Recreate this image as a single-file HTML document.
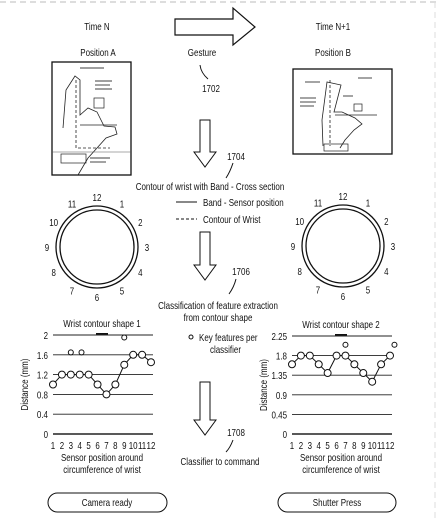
<!DOCTYPE html>
<html><head><meta charset="utf-8"><style>
html,body{margin:0;padding:0;background:#fff}
svg{display:block;font-family:"Liberation Sans",sans-serif;}
text{fill:#111;font-size:10.5px}
</style></head><body>
<svg id="fig" width="437" height="521" viewBox="0 0 437 521">
<line x1="0" y1="2" x2="437" y2="2" stroke="#bbb" stroke-dasharray="6,4"/>
<line x1="435" y1="2" x2="435" y2="521" stroke="#ddd" stroke-dasharray="6,4"/>
<text x="97" y="30" text-anchor="middle">Time N</text>
<text x="333" y="30" text-anchor="middle">Time N+1</text>
<polygon points="175,19 233,19 233,8 255,27 233,45 233,35 175,35" fill="#fff" stroke="#111" stroke-width="1.2"/>
<text x="98" y="56" text-anchor="middle">Position A</text>
<text x="202" y="56" text-anchor="middle">Gesture</text>
<text x="333" y="56" text-anchor="middle">Position B</text>
<path d="M200,65 Q201,73 208,79" fill="none" stroke="#111"/>
<text x="211" y="92" text-anchor="middle">1702</text>
<g>
<rect x="52" y="62" width="79" height="113" fill="#fff" stroke="#111" stroke-width="1.3"/>
<path d="M63,128 L66,90 L75,76 L80,80 L80,115 L88,108 L97,112 L104,126 L115,127 L117,134 L106,138 L97,148 L88,158 L78,175" fill="none" stroke="#222" stroke-width="0.8"/>
<path d="M76,80 L76,148 L110,148" fill="none" stroke="#222" stroke-width="0.8" stroke-dasharray="3,2"/>
<line x1="80" y1="125" x2="117" y2="125" stroke="#222" stroke-width="0.8"/>
<rect x="94" y="98" width="10" height="10" fill="none" stroke="#222" stroke-width="0.7"/>
<rect x="61" y="154" width="25" height="9" fill="none" stroke="#222" stroke-width="0.7"/>
<line x1="52" y1="152" x2="131" y2="152" stroke="#555" stroke-width="0.6"/>
<g stroke="#666" stroke-width="1.2"><line x1="95" y1="81" x2="112" y2="81"/><line x1="95" y1="85" x2="110" y2="85"/><line x1="95" y1="89" x2="112" y2="89"/><line x1="80" y1="68" x2="104" y2="68"/><line x1="90" y1="158" x2="110" y2="158"/><line x1="90" y1="162" x2="106" y2="162"/></g>
</g>
<g>
<rect x="293" y="69" width="99" height="85" fill="#fff" stroke="#111" stroke-width="1.3"/>
<path d="M323,146 L322,120 L327,82 L341,85 L334,112 L342,112 L355,118 L362,124 L354,130 L345,140 L340,148" fill="none" stroke="#222" stroke-width="0.8"/>
<path d="M330,80 L330,146" fill="none" stroke="#222" stroke-width="0.8" stroke-dasharray="3,2"/>
<line x1="335" y1="115" x2="377" y2="115" stroke="#222" stroke-width="0.8"/>
<rect x="354" y="104" width="8" height="7" fill="none" stroke="#222" stroke-width="0.7"/>
<rect x="324" y="144" width="24" height="7" fill="none" stroke="#222" stroke-width="0.7"/>
<g stroke="#666" stroke-width="1.2"><line x1="305" y1="82" x2="320" y2="82"/><line x1="300" y1="98" x2="316" y2="98"/><line x1="300" y1="102" x2="316" y2="102"/><line x1="300" y1="106" x2="314" y2="106"/><line x1="358" y1="78" x2="372" y2="78"/><line x1="343" y1="96" x2="353" y2="96"/></g>
</g>
<polygon points="200,120 210,120 210,152 216,152 205,167 194,152 200,152" fill="#fff" stroke="#111"/>
<text x="236" y="160" text-anchor="middle">1704</text>
<path d="M233,163 Q230,172 226,178" fill="none" stroke="#111"/>
<text x="210" y="190" text-anchor="middle">Contour of wrist with Band - Cross section</text>
<line x1="176" y1="202" x2="197" y2="202" stroke="#111"/>
<text x="203" y="206">Band - Sensor position</text>
<line x1="176" y1="219" x2="197" y2="219" stroke="#111" stroke-dasharray="3,2"/>
<text x="203" y="223">Contour of Wrist</text>
<g id="circL"></g>
<g id="circR"></g>
<polygon points="200,232 210,232 210,265 216,265 205,280 194,265 200,265" fill="#fff" stroke="#111"/>
<text x="241" y="275" text-anchor="middle">1706</text>
<path d="M236,279 Q234,287 229,294" fill="none" stroke="#111"/>
<text x="218" y="309" text-anchor="middle">Classification of feature extraction</text>
<text x="218" y="321" text-anchor="middle">from contour shape</text>
<circle cx="191" cy="337" r="2" fill="#fff" stroke="#111"/>
<text x="199" y="341">Key features per</text>
<text x="210" y="353">classifier</text>
<polygon points="200,382 210,382 210,420 216,420 205,435 194,420 200,420" fill="#fff" stroke="#111"/>
<text x="236" y="436" text-anchor="middle">1708</text>
<path d="M233,440 Q230,448 226,452" fill="none" stroke="#111"/>
<text x="220" y="465" text-anchor="middle">Classifier to command</text>
<g id="chartL"></g>
<g id="chartR"></g>
<rect x="48" y="493" width="119" height="19" rx="9.5" fill="#fff" stroke="#111"/>
<text x="107" y="506" text-anchor="middle">Camera ready</text>
<rect x="278" y="493" width="118" height="19" rx="9.5" fill="#fff" stroke="#111"/>
<text x="337" y="506" text-anchor="middle">Shutter Press</text>
</svg>
<script>
const positions=[1,2,3,4,5,6,7,8,9,10,11,12];
const shape1=[1.0,1.2,1.2,1.2,1.2,1.0,0.8,1.0,1.4,1.6,1.6,1.45];
const shape1Keys=[[3,1.65],[4.2,1.65],[9,1.95]];
const ticks1=[0,0.4,0.8,1.2,1.6,2];
const shape2=[1.6,1.8,1.8,1.6,1.4,1.8,1.8,1.6,1.4,1.2,1.6,1.8];
const shape2Keys=[[7,2.05],[12.5,2.05]];
const ticks2=[0,0.45,0.9,1.35,1.8,2.25];
const NS="http://www.w3.org/2000/svg";
function mk(p,t,a){const e=document.createElementNS(NS,t);for(const k in a)e.setAttribute(k,a[k]);p.appendChild(e);return e;}
function circle(id,cx,cy){
  const g=document.getElementById(id);
  const o=mk(g,'circle',{cx:cx,cy:cy,r:41,fill:'none',stroke:'#111','stroke-width':1.3});
  
  
  const i=mk(g,'circle',{cx:cx,cy:cy,r:37,fill:'none',stroke:'#111','stroke-width':1.3});
  
  
  for(let n=1;n<=12;n++){
    const a=n*Math.PI/6;
    const t=mk(g,'text',{x:cx+50*Math.sin(a),y:cy-50*Math.cos(a)+4,'text-anchor':'middle'});
    t.textContent=n;
    
    
  }
}
circle('circL',97,247);circle('circR',343,246);
function chart(id,title,vals,keys,ticks,x0,x1,yTop,yBot,lx){
  const g=document.getElementById(id);
  const max=ticks[ticks.length-1];
  const X=p=>x0+(p-1)*(x1-x0)/11;
  const Y=v=>yBot-(v/max)*(yBot-yTop);
  const tt=mk(g,'text',{x:(x0+x1)/2,y:yTop-8,'text-anchor':'middle'});tt.textContent=title;
  
  
  const lg=mk(g,'line',{x1:(x0+x1)/2-6,y1:yTop-1,x2:(x0+x1)/2+6,y2:yTop-1,stroke:'#111','stroke-width':2});
  
  
  ticks.forEach(v=>{
    const l=mk(g,'line',{x1:x0,x2:x1+2,y1:Y(v),y2:Y(v),stroke:'#222','stroke-width':v===0?1.5:0.9});
    
    
    const t=mk(g,'text',{x:lx,y:Y(v)+4,'text-anchor':'end'});t.textContent=v;
    
    
  });
  positions.forEach(p=>{const t=mk(g,'text',{x:X(p),y:yBot+15,'text-anchor':'middle'});t.textContent=p;
    
    });
  const yl=mk(g,'text',{x:0,y:0,'text-anchor':'middle',transform:`translate(${lx-20},${(yTop+yBot)/2}) rotate(-90)`});yl.textContent='Distance (mm)';
  
  
  const a=mk(g,'text',{x:(x0+x1)/2,y:yBot+27,'text-anchor':'middle'});a.textContent='Sensor position around';
  
  
  const b=mk(g,'text',{x:(x0+x1)/2,y:yBot+39,'text-anchor':'middle'});b.textContent='circumference of wrist';
  
  
  const pl=mk(g,'polyline',{points:vals.map((v,i)=>X(positions[i])+','+Y(v)).join(' '),fill:'none',stroke:'#111','stroke-width':1});
  
  
  vals.forEach((v,i)=>{const c=mk(g,'circle',{cx:X(positions[i]),cy:Y(v),r:3.5,fill:'#fff',stroke:'#111'});
    
    });
  keys.forEach(k=>{const c=mk(g,'circle',{cx:X(k[0]),cy:Y(k[1]),r:2.5,fill:'#fff',stroke:'#111'});
    
    });
}
chart('chartL','Wrist contour shape 1',shape1,shape1Keys,ticks1,53,151,335,434,48);
chart('chartR','Wrist contour shape 2',shape2,shape2Keys,ticks2,292,390,336,434,287);
// condense all text to mimic the narrow typeface of the drawing
document.querySelectorAll('#fig text').forEach(t=>{
  const w=t.getComputedTextLength();
  t.setAttribute('textLength',(w*0.76).toFixed(1));
  t.setAttribute('lengthAdjust','spacingAndGlyphs');
});
</script>
</body></html>
